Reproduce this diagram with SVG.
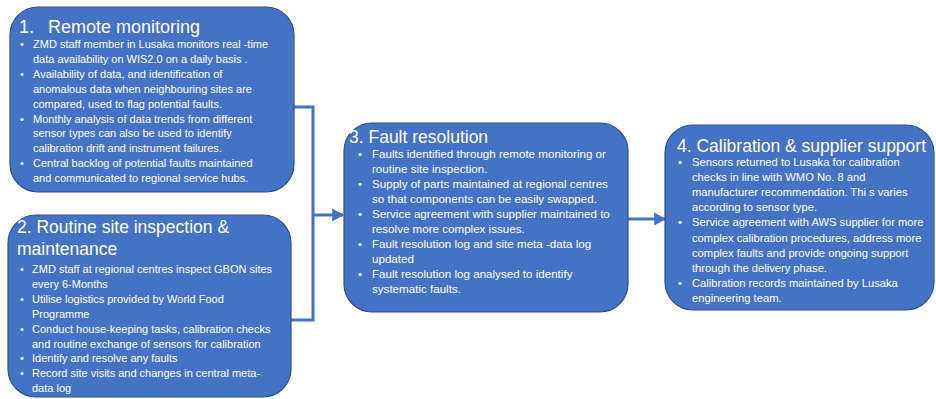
<svg xmlns="http://www.w3.org/2000/svg" width="936" height="399" viewBox="0 0 936 399">
<style>
.box{fill:#4472C4;stroke:#2F528F;stroke-width:1.2}
.t{fill:#FFFFFF;font-family:"Liberation Sans",Arial,sans-serif;font-size:11px}
.t3{font-size:11.6px}
.t4{font-size:11.2px}
.h{fill:#FFFFFF;font-family:"Liberation Sans",Arial,sans-serif;font-size:17.5px}
.h1{fill:#FFFFFF;font-family:"Liberation Sans",Arial,sans-serif;font-size:18px}
.c{fill:none;stroke:#4472C4;stroke-width:3}
</style>
<defs>
<marker id="ah" markerWidth="4" markerHeight="4.4" refX="3.6" refY="2.2" orient="auto" markerUnits="strokeWidth">
<path d="M0,0 L4,2.2 L0,4.4 Z" fill="#4472C4"/>
</marker>
</defs>
<rect width="936" height="399" fill="#FFFFFF"/>
<g id="connectors">
<polyline class="c" points="293,107 313,107 313,320 291,320"/>
<line class="c" x1="313" y1="215" x2="343" y2="215" marker-end="url(#ah)"/>
<line class="c" x1="627" y1="219" x2="665" y2="219" marker-end="url(#ah)"/>
</g>
<g id="node1">
<rect class="box" x="10" y="7" width="284" height="185" rx="28" ry="28"/>
<text class="h1" x="19" y="33">1.</text>
<text class="h1" x="48" y="33">Remote monitoring</text>
<g class="t">
<text x="20" y="48">•</text><text x="33" y="48">ZMD staff member in Lusaka monitors real -time</text>
<text x="33" y="62.9">data availability on WIS2.0 on a daily basis .</text>
<text x="20" y="77.8">•</text><text x="33" y="77.8">Availability of data, and identification of</text>
<text x="33" y="92.7">anomalous data when neighbouring sites are</text>
<text x="33" y="107.6">compared, used to flag potential faults.</text>
<text x="20" y="122.5">•</text><text x="33" y="122.5">Monthly analysis of data trends from different</text>
<text x="33" y="137.4">sensor types can also be used to identify</text>
<text x="33" y="152.3">calibration drift and instrument failures.</text>
<text x="20" y="167.2">•</text><text x="33" y="167.2">Central backlog of potential faults maintained</text>
<text x="33" y="182.1">and communicated to regional service hubs.</text>
</g>
</g>
<g id="node2">
<rect class="box" x="8" y="215" width="283" height="182" rx="28" ry="28"/>
<text class="h" x="17" y="233">2. Routine site inspection &amp;</text>
<text class="h" x="17" y="255">maintenance</text>
<g class="t">
<text x="20" y="273">•</text><text x="32" y="273">ZMD staff at regional centres inspect GBON sites</text>
<text x="32" y="287.9">every 6-Months</text>
<text x="20" y="302.8">•</text><text x="32" y="302.8">Utilise logistics provided by World Food</text>
<text x="32" y="317.7">Programme</text>
<text x="20" y="332.6">•</text><text x="32" y="332.6">Conduct house-keeping tasks, calibration checks</text>
<text x="32" y="347.5">and routine exchange of sensors for calibration</text>
<text x="20" y="362.4">•</text><text x="32" y="362.4">Identify and resolve any faults</text>
<text x="20" y="377.3">•</text><text x="32" y="377.3">Record site visits and changes in central meta-</text>
<text x="32" y="392.2">data log</text>
</g>
</g>
<g id="node3">
<rect class="box" x="344" y="123" width="284" height="189" rx="28" ry="28"/>
<text class="h" x="349" y="143">3. Fault resolution</text>
<g class="t t3">
<text x="358" y="158">•</text><text x="372" y="158">Faults identified through remote monitoring or</text>
<text x="372" y="173">routine site inspection.</text>
<text x="358" y="188">•</text><text x="372" y="188">Supply of parts maintained at regional centres</text>
<text x="372" y="203">so that components can be easily swapped.</text>
<text x="358" y="218">•</text><text x="372" y="218">Service agreement with supplier maintained to</text>
<text x="372" y="233">resolve more complex issues.</text>
<text x="358" y="248">•</text><text x="372" y="248">Fault resolution log and site meta -data log</text>
<text x="372" y="263">updated</text>
<text x="358" y="278">•</text><text x="372" y="278">Fault resolution log analysed to identify</text>
<text x="372" y="293">systematic faults.</text>
</g>
</g>
<g id="node4">
<rect class="box" x="665" y="125" width="269" height="185" rx="28" ry="28"/>
<text class="h" x="677" y="152">4. Calibration &amp; supplier support</text>
<g class="t t4">
<text x="678" y="166">•</text><text x="692" y="166">Sensors returned to Lusaka for calibration</text>
<text x="692" y="181.1">checks in line with WMO No. 8 and</text>
<text x="692" y="196.2">manufacturer recommendation. Thi s varies</text>
<text x="692" y="211.3">according to sensor type.</text>
<text x="678" y="226.4">•</text><text x="692" y="226.4">Service agreement with AWS supplier for more</text>
<text x="692" y="241.5">complex calibration procedures, address more</text>
<text x="692" y="256.6">complex faults and provide ongoing support</text>
<text x="692" y="271.7">through the delivery phase.</text>
<text x="678" y="286.8">•</text><text x="692" y="286.8">Calibration records maintained by Lusaka</text>
<text x="692" y="301.9">engineering team.</text>
</g>
</g>
</svg>
